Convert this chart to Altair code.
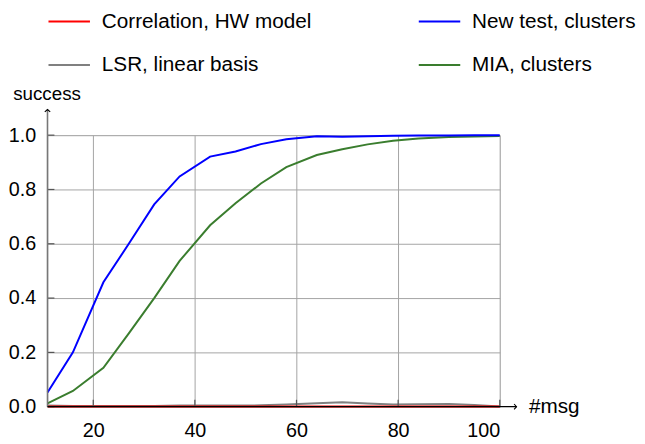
import altair as alt
import pandas as pd

# ---- data ----
msgs = [11, 16, 22, 27, 32, 37, 43, 48, 53, 58, 64, 69, 74, 79, 84, 90, 95, 100]
corr_hw = [0.001, 0.001, 0.001, 0.001, 0.001, 0.001, 0.001, 0.001, 0.001,
           0.001, 0.001, 0.001, 0.001, 0.001, 0.001, 0.001, 0.001, 0.001]
new_test = [0.052, 0.200, 0.458, 0.600, 0.745, 0.848, 0.921, 0.940, 0.967,
            0.985, 0.996, 0.994, 0.996, 0.998, 0.999, 0.999, 1.000, 1.000]
lsr = [0.004, 0.003, 0.003, 0.003, 0.003, 0.004, 0.004, 0.004, 0.005,
       0.008, 0.013, 0.016, 0.012, 0.008, 0.009, 0.010, 0.006, 0.001]
mia = [0.012, 0.058, 0.143, 0.270, 0.400, 0.537, 0.668, 0.749, 0.822,
       0.882, 0.927, 0.948, 0.966, 0.979, 0.988, 0.993, 0.995, 0.997]

series_names = ["Correlation, HW model", "New test, clusters",
                "LSR, linear basis", "MIA, clusters"]
series_colors = ["#ff0000", "#0000ff", "#808080", "#3a7d2e"]
series_values = [corr_hw, new_test, lsr, mia]
draw_order = ["LSR, linear basis", "MIA, clusters", "New test, clusters", "Correlation, HW model"]

x_ticks = [20, 40, 60, 80, 100]
y_ticks = [0.0, 0.2, 0.4, 0.6, 0.8, 1.0]

rows = []
for name, vals in zip(series_names, series_values):
    for m, v in zip(msgs, vals):
        rows.append({"series": name, "msg": m, "success": v})
df = pd.DataFrame(rows)

FONT = "Liberation Sans"
W, H = 458, 275

xscale = alt.Scale(domain=[11, 100], nice=False, zero=False)
yscale = alt.Scale(domain=[0, 1], nice=False, zero=False)
color = alt.Color("series:N",
                  scale=alt.Scale(domain=series_names, range=series_colors),
                  legend=None)

x_axis = alt.Axis(values=x_ticks, grid=True, domain=False, ticks=False,
                  labelPadding=14, labelFontSize=20, labelFont=FONT,
                  labelColor="#000", gridColor="#a4a4a4", gridWidth=1,
                  title="#msg", titleFont=FONT, titleFontSize=21,
                  titleFontWeight="normal", titleColor="#000",
                  titleX=487, titleY=0, titleAlign="left",
                  titleBaseline="middle", titleAngle=0)
y_axis = alt.Axis(values=y_ticks, format=".1f", grid=True, domain=False,
                  ticks=False, labelPadding=12, labelFontSize=20,
                  labelFont=FONT, labelColor="#000", gridColor="#a4a4a4",
                  gridWidth=1, title="success", titleFont=FONT,
                  titleFontSize=19, titleFontWeight="normal",
                  titleColor="#000", titleAngle=0, titleX=-1, titleY=-42,
                  titleAlign="center", titleBaseline="middle")

layers = []
for name in draw_order:
    layer = alt.Chart(df).transform_filter(
        alt.datum.series == name
    ).mark_line(strokeWidth=2).encode(
        x=alt.X("msg:Q", scale=xscale, axis=x_axis),
        y=alt.Y("success:Q", scale=yscale, axis=y_axis),
        color=color,
    )
    layers.append(layer)

# inward tick marks
xt = alt.Chart(pd.DataFrame({"msg": x_ticks})).mark_rule(
    color="#555555", strokeWidth=1.2).encode(
    x=alt.X("msg:Q", scale=xscale, axis=x_axis),
    y=alt.value(H), y2=alt.value(H - 7))
yt = alt.Chart(pd.DataFrame({"success": y_ticks})).mark_rule(
    color="#555555", strokeWidth=1.2).encode(
    y=alt.Y("success:Q", scale=yscale, axis=y_axis),
    x=alt.value(0), x2=alt.value(7))

one = pd.DataFrame({"k": [0]})
# axis lines with arrows
y_line = alt.Chart(one).mark_rule(color="#777777", strokeWidth=1.6).encode(
    x=alt.value(0), y=alt.value(H), y2=alt.value(-26))
x_line = alt.Chart(one).mark_rule(color="#000000", strokeWidth=1.3).encode(
    x=alt.value(0), x2=alt.value(475), y=alt.value(H))
y_arrow = alt.Chart(one).mark_point(
    shape="M -1 0.9 L 0 0 L 1 0.9", size=30, filled=False,
    color="#000000", strokeWidth=1.1, opacity=1).encode(
    x=alt.value(0), y=alt.value(-26))
x_arrow = alt.Chart(one).mark_point(
    shape="M -0.9 -1 L 0 0 L -0.9 1", size=30, filled=False,
    color="#000000", strokeWidth=1.1, opacity=1).encode(
    x=alt.value(475), y=alt.value(H))

# custom legend (2 columns x 2 rows)
leg_x = [1, 376]
leg_y = [-115, -71]
leg_layers = []
for i, (name, col) in enumerate(zip(series_names, series_colors)):
    lx = leg_x[i % 2]
    ly = leg_y[i // 2]
    d = pd.DataFrame({"label": [name]})
    leg_layers.append(alt.Chart(d).mark_rule(color=col, strokeWidth=2).encode(
        x=alt.value(lx), x2=alt.value(lx + 42), y=alt.value(ly)))
    leg_layers.append(alt.Chart(d).mark_text(
        align="left", baseline="middle", font=FONT, fontSize=21,
        color="#000").encode(
        x=alt.value(lx + 54), y=alt.value(ly), text="label:N"))

chart = alt.layer(*layers, xt, yt, y_line, x_line, y_arrow, x_arrow,
                  *leg_layers).properties(
    width=W, height=H,
    autosize=alt.AutoSizeParams(type="none"),
    padding={"left": 40, "top": 126, "right": 139, "bottom": 34},
).configure_view(stroke=None).configure(background="white")

chart.save("out.html", embed_options={"renderer": "svg", "actions": False})
